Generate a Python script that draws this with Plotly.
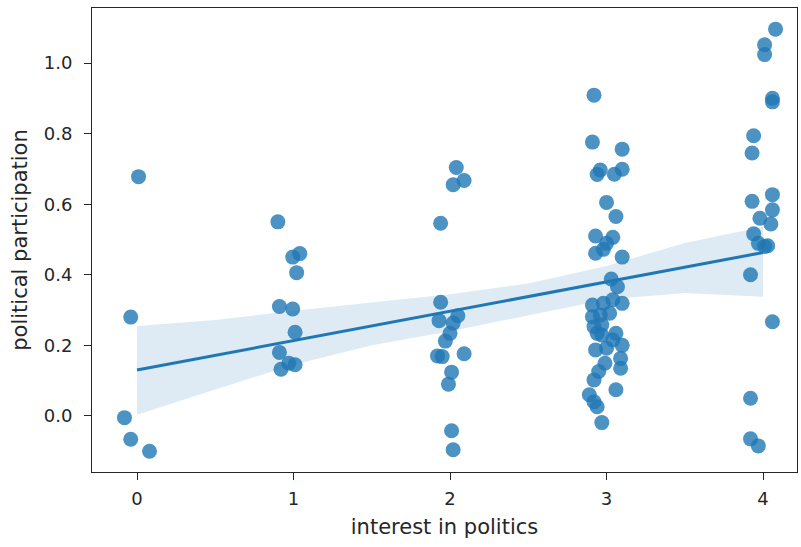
import plotly.graph_objects as go

# jittered scatter points (interest in politics, political participation)
x_pts = [
    0.01, -0.04, -0.08, -0.04, 0.08,
    0.90, 1.04, 0.995, 1.02, 0.91, 0.995, 1.01, 0.91, 0.97, 1.01, 0.92,
    2.04, 2.09, 2.02, 1.94, 1.94, 1.93, 2.05, 2.02, 2.00, 1.97, 1.92, 1.95, 2.09, 2.01, 1.99, 2.01, 2.02,
    2.92, 2.91, 3.10, 2.96, 2.94, 3.10, 3.05, 3.00, 3.06, 2.93, 3.04, 3.00, 2.93, 2.98, 3.10, 3.03, 3.07,
    2.91, 2.98, 3.04, 3.10, 2.91, 2.96, 3.02, 2.92, 2.97, 2.94, 2.97, 3.06, 3.04, 3.10, 2.93, 3.00,
    3.09, 2.99, 3.09, 2.95, 2.92, 3.06, 2.89, 2.92, 2.94, 2.97,
    4.08, 4.01, 4.01, 4.06, 4.06, 3.94, 3.93, 4.06, 3.93, 4.06, 3.98, 4.05, 3.94, 3.97, 4.03, 4.01,
    3.92, 4.06, 3.92, 3.92, 3.97,
]
y_pts = [
    0.678, 0.28, -0.005, -0.066, -0.10,
    0.55, 0.46, 0.45, 0.406, 0.31, 0.303, 0.237, 0.18, 0.149, 0.145, 0.132,
    0.704, 0.667, 0.655, 0.546, 0.322, 0.27, 0.284, 0.263, 0.234, 0.212, 0.17, 0.168, 0.176, 0.124, 0.09, -0.042, -0.096,
    0.909, 0.776, 0.756, 0.697, 0.684, 0.699, 0.685, 0.605, 0.565, 0.51, 0.506, 0.489, 0.461, 0.472, 0.45, 0.388, 0.366,
    0.314, 0.319, 0.329, 0.319, 0.281, 0.286, 0.291, 0.253, 0.258, 0.234, 0.229, 0.234, 0.215, 0.20, 0.187, 0.192,
    0.163, 0.149, 0.135, 0.126, 0.102, 0.074, 0.06, 0.04, 0.026, -0.019,
    1.096, 1.052, 1.024, 0.90, 0.89, 0.794, 0.745, 0.627, 0.608, 0.584, 0.56, 0.544, 0.516, 0.489, 0.482, 0.48,
    0.40, 0.267, 0.05, -0.065, -0.085,
]

# regression line and confidence band
fit_x = [0, 4]
fit_y = [0.130, 0.463]
band_x = [0, 0.5, 1, 1.5, 2, 2.5, 3, 3.5, 4]
band_upper = [0.255, 0.272, 0.298, 0.322, 0.345, 0.375, 0.425, 0.49, 0.536]
band_lower = [0.003, 0.075, 0.145, 0.20, 0.24, 0.285, 0.33, 0.348, 0.338]

x_ticks = [0, 1, 2, 3, 4]
y_ticks = [0.0, 0.2, 0.4, 0.6, 0.8, 1.0]
y_tick_text = ["0.0", "0.2", "0.4", "0.6", "0.8", "1.0"]

blue = "#1f77b4"
ink = "#262626"

fig = go.Figure()
fig.add_trace(go.Scatter(
    x=x_pts, y=y_pts, mode="markers",
    marker=dict(size=15, color=blue, opacity=0.8, line=dict(width=0)),
    showlegend=False, hoverinfo="skip",
))
fig.add_trace(go.Scatter(
    x=band_x + band_x[::-1], y=band_upper + band_lower[::-1],
    fill="toself", fillcolor="rgba(31,119,180,0.15)", line=dict(width=0),
    mode="lines", showlegend=False, hoverinfo="skip",
))
fig.add_trace(go.Scatter(
    x=fit_x, y=fit_y, mode="lines", line=dict(color=blue, width=3),
    showlegend=False, hoverinfo="skip",
))

axis_common = dict(
    showline=True, mirror=True, linecolor=ink, linewidth=1,
    ticks="outside", ticklen=7, tickwidth=1, tickcolor=ink,
    showgrid=False, zeroline=False,
    tickfont=dict(family="DejaVu Sans", size=18, color=ink),
)
fig.update_layout(
    width=801, height=547,
    margin=dict(l=92, r=4, t=8, b=75),
    plot_bgcolor="white", paper_bgcolor="white",
    font=dict(family="DejaVu Sans", size=18, color=ink),
    xaxis=dict(range=[-0.2875, 4.217], tickvals=x_ticks, ticklabelstandoff=3,
               title=dict(text="interest in politics", standoff=11,
                          font=dict(family="DejaVu Sans", size=21, color=ink)),
               **axis_common),
    yaxis=dict(range=[-0.159, 1.156], tickvals=y_ticks, ticktext=y_tick_text,
               ticklabelstandoff=8,
               title=dict(text="political participation", standoff=10,
                          font=dict(family="DejaVu Sans", size=21, color=ink)),
               **axis_common),
)
fig.write_html("out.html")
